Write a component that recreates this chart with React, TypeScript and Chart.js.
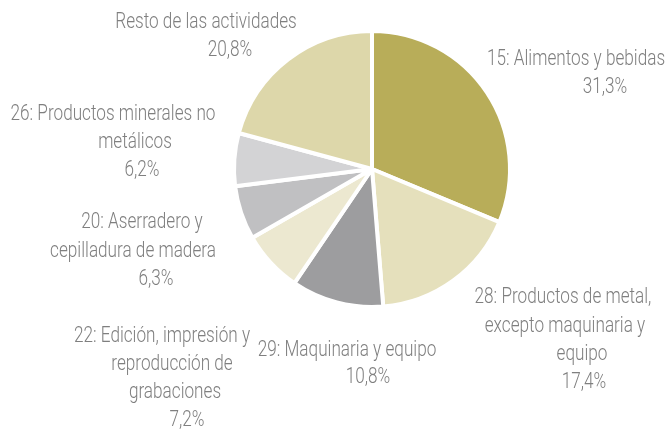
import React, { useEffect, useRef } from "react";
import { Chart, registerables } from "chart.js";

Chart.register(...registerables);

// ---- Data ----
const categories: string[] = [
  "15: Alimentos y bebidas",
  "28: Productos de metal, excepto maquinaria y equipo",
  "29: Maquinaria y equipo",
  "22: Edición, impresión y reproducción de grabaciones",
  "20: Aserradero y cepilladura de madera",
  "26: Productos minerales no metálicos",
  "Resto de las actividades",
];
const shares: number[] = [31.3, 17.4, 10.8, 7.2, 6.3, 6.2, 20.8];

// wrapped label text (as displayed)
const labelLines: string[][] = [
  ["15: Alimentos y bebidas"],
  ["28: Productos de metal,", "excepto maquinaria y", "equipo"],
  ["29: Maquinaria y equipo"],
  ["22: Edición, impresión y", "reproducción de", "grabaciones"],
  ["20: Aserradero y", "cepilladura de madera"],
  ["26: Productos minerales no", "metálicos"],
  ["Resto de las actividades"],
];

// ---- Style / layout ----
const sliceColors: string[] = [
  "#b8ad59",
  "#e5e0bc",
  "#9d9d9f",
  "#ece8d0",
  "#c0c0c2",
  "#d3d3d5",
  "#ddd7aa",
];

// per-line label offsets (px) from the pie centre, last entry is the percentage line
const labelOffsets: [number, number][][] = [
  [[204, -111], [233, -83]],
  [[191, 127], [193, 156], [210, 184], [212, 212]],
  [[-25, 180], [-4, 207]],
  [[-210, 166], [-200, 194], [-197, 222], [-185, 250]],
  [[-230, 52], [-239, 81], [-216, 109]],
  [[-259, -56], [-237, -28], [-230, 0]],
  [[-166, -148], [-142, -120]],
];

const TEXT_SCALE_X = 0.78;
const TEXT_DY = 1.5;

const fmtPct = (v: number) => v.toFixed(1).replace(".", ",") + "%";

const labelPlugin = {
  id: "outerLabels",
  afterDatasetsDraw(chart: any) {
    const meta = chart.getDatasetMeta(0);
    const ctx = chart.ctx as CanvasRenderingContext2D;
    ctx.save();
    ctx.font = "300 22px Roboto, 'Liberation Sans', sans-serif";
    ctx.fillStyle = "#7f7f7f";
    ctx.textAlign = "center";
    ctx.textBaseline = "middle";
    meta.data.forEach((arc: any, i: number) => {
      const cx = arc.x;
      const cy = arc.y;
      const lines = [...labelLines[i], fmtPct(shares[i])];
      lines.forEach((t, j) => {
        const off = labelOffsets[i][j];
        ctx.save();
        ctx.translate(cx + off[0], cy + off[1] + TEXT_DY);
        ctx.scale(TEXT_SCALE_X, 1);
        ctx.fillText(t, 0, 0);
        ctx.restore();
      });
    });
    ctx.restore();
  },
};

export default function App() {
  const ref = useRef<HTMLCanvasElement | null>(null);
  useEffect(() => {
    document.body.style.margin = "0";
    if (!ref.current) return;
    const chart = new Chart(ref.current, {
      type: "pie",
      data: {
        labels: categories,
        datasets: [
          {
            data: shares,
            backgroundColor: sliceColors,
            borderColor: "#ffffff",
            borderWidth: 4,
          },
        ],
      },
      options: {
        responsive: false,
        animation: false,
        layout: { padding: { left: 232, right: 156, top: 29, bottom: 121 } },
        plugins: {
          legend: { display: false },
          tooltip: { enabled: false },
        },
      },
      plugins: [labelPlugin],
    });
    return () => chart.destroy();
  }, []);
  return (
    <div style={{ width: 668, height: 430, background: "#fff" }}>
      <canvas ref={ref} width={668} height={430} />
    </div>
  );
}
